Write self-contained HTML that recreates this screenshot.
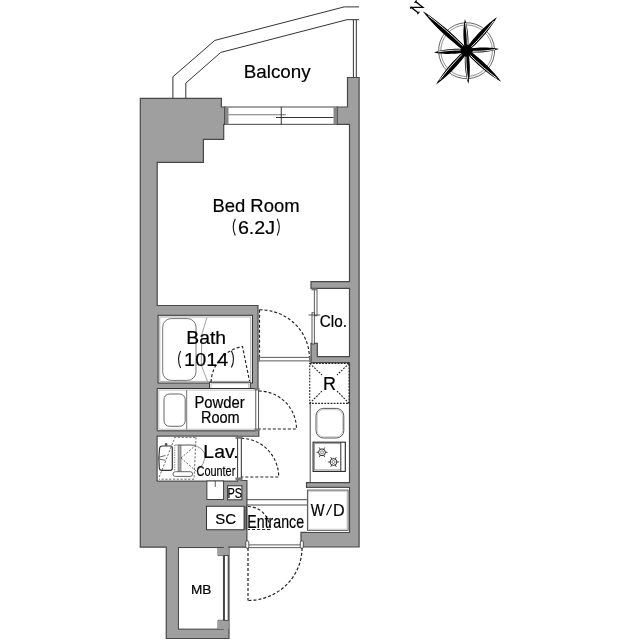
<!DOCTYPE html>
<html><head><meta charset="utf-8"><style>
html,body{margin:0;padding:0;background:#fff;}
svg{display:block;will-change:transform;}
text{font-family:"Liberation Sans",sans-serif;}
</style></head><body>
<svg width="640" height="640" viewBox="0 0 640 640">
<rect width="640" height="640" fill="#fff"/>
<polyline points="172.9,98.4 172.9,76.8 214.8,40.4 344.2,6.9 359.1,6.9" fill="none" stroke="#333333" stroke-width="1"/>
<polyline points="185.8,98.4 185.8,83.1 220.8,52.4 347,19.7 359.1,19.7" fill="none" stroke="#333333" stroke-width="1"/>
<line x1="353.4" y1="19.7" x2="353.4" y2="77.5" stroke="#333333" stroke-width="1"/>
<line x1="356.3" y1="19.7" x2="356.3" y2="77.5" stroke="#333333" stroke-width="1"/>
<path d="M140.3,98.4 H221.4 V107 H225 V124.3 H223.7 V139.3 H203.4 V162.4 H157.2 V305.5 H258 V389.7 H255.8 V430.2 H258.8 V436.25 H241.25 V480.5 H246.9 V547.2 H229 V638.5 H166.25 V547.2 H140.3 Z" fill="#9f9f9f" stroke="#484848" stroke-width="1.2"/>
<path d="M347.5,77.5 H359.1 V547 H301 V532.3 H349.5 V487.4 H306.5 V482.7 H349.5 V362.6 H311 V343.3 H317.3 V356.6 H349.5 V288.4 H311 V281.7 H349.5 V124.3 H336.9 V107 H347.5 Z" fill="#9f9f9f" stroke="#484848" stroke-width="1.2"/>
<rect x="225" y="107" width="111.9" height="17.3" fill="#fff" stroke="#333333" stroke-width="0.9"/>
<rect x="225" y="107" width="3.5" height="17.3" fill="#888"/>
<rect x="333.5" y="107" width="3.4" height="17.3" fill="#888"/>
<line x1="228.5" y1="114.75" x2="286" y2="114.75" stroke="#777" stroke-width="1"/>
<line x1="276" y1="117.5" x2="333.5" y2="117.5" stroke="#333333" stroke-width="1"/>
<line x1="281.25" y1="107" x2="281.25" y2="124.3" stroke="#333333" stroke-width="1"/>
<rect x="158.1" y="315.3" width="94.4" height="67.7" fill="#fff" stroke="#333333" stroke-width="1"/>
<rect x="159.8" y="317" width="91" height="64.3" fill="none" stroke="#999" stroke-width="0.8"/>
<rect x="162.7" y="318.6" width="33.3" height="61.8" rx="8.5" fill="none" stroke="#666" stroke-width="0.9"/>
<polyline points="206.9,317.6 201.9,333.9 201.25,365 207.5,381.4" fill="none" stroke="#888" stroke-width="0.8"/>
<rect x="209.5" y="382.3" width="40.8" height="7.8" fill="#fff" stroke="#333333" stroke-width="0.9"/>
<rect x="211" y="383.8" width="37.8" height="4.8" fill="none" stroke="#999" stroke-width="0.6"/>
<path d="M211,382 A39,38 0 0 1 242.5,346.5 L249.5,381" fill="none" stroke="#222" stroke-width="1.15" stroke-dasharray="3,2"/>
<rect x="157.2" y="388.5" width="99.1" height="42.3" fill="#fff"/>
<path d="M256.3,388.5 H157.2 V430.8 H256.3" fill="none" stroke="#333333" stroke-width="1"/>
<path d="M256.3,390.1 H158.8 V429.2 H256.3" fill="none" stroke="#999" stroke-width="0.6"/>
<line x1="186.7" y1="390" x2="186.7" y2="429.5" stroke="#666" stroke-width="0.9"/>
<rect x="164" y="394" width="21.2" height="32.3" rx="5.5" fill="none" stroke="#555" stroke-width="0.9"/>
<rect x="157.1" y="436.1" width="80.5" height="45" fill="#fff" stroke="#333333" stroke-width="1"/>
<rect x="206.9" y="481" width="16.7" height="18.5" fill="#fff" stroke="#333333" stroke-width="0.9"/>
<line x1="215.25" y1="481" x2="215.25" y2="487" stroke="#333333" stroke-width="0.8"/>
<rect x="227.6" y="485.8" width="14.3" height="14" fill="#fff" stroke="#333333" stroke-width="1"/>
<rect x="206.5" y="506.25" width="37.6" height="23.5" fill="#fff" stroke="#333333" stroke-width="1"/>
<rect x="178.4" y="547.6" width="45" height="81.5" fill="#fff" stroke="#333333" stroke-width="0.9"/>
<line x1="259.5" y1="309.8" x2="259.5" y2="357.5" stroke="#222" stroke-width="1.15" stroke-dasharray="3,2"/>
<path d="M259.5,309.8 A49.5,48 0 0 1 309.4,358" fill="none" stroke="#222" stroke-width="1.15" stroke-dasharray="3,2"/>
<rect x="258" y="357.3" width="53" height="3.6" fill="#fff" stroke="#333333" stroke-width="0.8"/>
<rect x="257.5" y="356.5" width="2.5" height="5" fill="#777"/>
<rect x="309" y="356.5" width="2.5" height="5.5" fill="#777"/>
<rect x="314.3" y="288.4" width="2.7" height="27.4" fill="#fff" stroke="#333333" stroke-width="0.8"/>
<rect x="312" y="312.8" width="2.3" height="31.2" fill="#fff" stroke="#333333" stroke-width="0.8"/>
<line x1="308.4" y1="315" x2="320.2" y2="315" stroke="#333333" stroke-width="0.8"/>
<rect x="311.5" y="288.4" width="5.5" height="2" fill="#777"/>
<rect x="309.75" y="363.4" width="39.35" height="40" fill="none" stroke="#222" stroke-width="1.1" stroke-dasharray="1.8,1.3"/>
<line x1="309.75" y1="363.4" x2="322" y2="375" stroke="#222" stroke-width="1.1" stroke-dasharray="1.8,1.3"/>
<line x1="349.1" y1="363.4" x2="337" y2="375" stroke="#222" stroke-width="1.1" stroke-dasharray="1.8,1.3"/>
<line x1="309.75" y1="403.4" x2="322" y2="391" stroke="#222" stroke-width="1.1" stroke-dasharray="1.8,1.3"/>
<line x1="349.1" y1="403.4" x2="337" y2="391" stroke="#222" stroke-width="1.1" stroke-dasharray="1.8,1.3"/>
<line x1="310.2" y1="403.4" x2="310.2" y2="482.7" stroke="#333333" stroke-width="0.9"/>
<rect x="316" y="408.4" width="27.8" height="29.6" rx="7.5" fill="#fff" stroke="#444" stroke-width="0.9"/>
<rect x="317.3" y="409.7" width="25.2" height="27" rx="6" fill="none" stroke="#aaa" stroke-width="0.6"/>
<rect x="313.1" y="442.2" width="32.2" height="29.2" fill="#fff" stroke="#222" stroke-width="1.1"/>
<rect x="314.6" y="443.7" width="26.2" height="26.2" fill="none" stroke="#777" stroke-width="0.7"/>
<line x1="340.8" y1="442.2" x2="340.8" y2="471.4" stroke="#333333" stroke-width="0.8"/>
<circle cx="322" cy="452.3" r="3.4" fill="none" stroke="#333" stroke-width="1"/><circle cx="322" cy="452.3" r="1.5" fill="none" stroke="#555" stroke-width="0.7"/><line x1="325.00" y1="452.30" x2="327.60" y2="452.30" stroke="#333" stroke-width="0.9"/><line x1="323.50" y1="454.90" x2="324.80" y2="457.15" stroke="#333" stroke-width="0.9"/><line x1="320.50" y1="454.90" x2="319.20" y2="457.15" stroke="#333" stroke-width="0.9"/><line x1="319.00" y1="452.30" x2="316.40" y2="452.30" stroke="#333" stroke-width="0.9"/><line x1="320.50" y1="449.70" x2="319.20" y2="447.45" stroke="#333" stroke-width="0.9"/><line x1="323.50" y1="449.70" x2="324.80" y2="447.45" stroke="#333" stroke-width="0.9"/>
<circle cx="333.5" cy="462" r="3.4" fill="none" stroke="#333" stroke-width="1"/><circle cx="333.5" cy="462" r="1.5" fill="none" stroke="#555" stroke-width="0.7"/><line x1="336.50" y1="462.00" x2="339.10" y2="462.00" stroke="#333" stroke-width="0.9"/><line x1="335.00" y1="464.60" x2="336.30" y2="466.85" stroke="#333" stroke-width="0.9"/><line x1="332.00" y1="464.60" x2="330.70" y2="466.85" stroke="#333" stroke-width="0.9"/><line x1="330.50" y1="462.00" x2="327.90" y2="462.00" stroke="#333" stroke-width="0.9"/><line x1="332.00" y1="459.40" x2="330.70" y2="457.15" stroke="#333" stroke-width="0.9"/><line x1="335.00" y1="459.40" x2="336.30" y2="457.15" stroke="#333" stroke-width="0.9"/>
<rect x="255.8" y="388.5" width="2.6" height="41.5" fill="#fff" stroke="#333333" stroke-width="0.8"/>
<path d="M258.75,391 A38,38 0 0 1 296.5,429 H258.75" fill="none" stroke="#222" stroke-width="1.15" stroke-dasharray="3,2"/>
<rect x="254.5" y="428.5" width="5" height="2.5" fill="#777"/>
<rect x="254.5" y="388" width="5" height="2.5" fill="#777"/>
<rect x="237.7" y="436.25" width="3.5" height="42" fill="#fff" stroke="#333333" stroke-width="0.8"/>
<path d="M241.25,438.4 A37.5,38.6 0 0 1 278.7,477 H241.25" fill="none" stroke="#222" stroke-width="1.15" stroke-dasharray="3,2"/>
<rect x="235.5" y="436.25" width="7" height="2.5" fill="#777"/>
<rect x="235.5" y="477.5" width="7" height="3" fill="#777"/>
<line x1="246.9" y1="499.7" x2="307.5" y2="499.7" stroke="#333333" stroke-width="0.9"/>
<line x1="246.9" y1="505" x2="307.5" y2="505" stroke="#333333" stroke-width="0.9"/>
<line x1="245" y1="506" x2="245" y2="530" stroke="#333333" stroke-width="0.8"/>
<line x1="246.6" y1="506" x2="246.6" y2="530" stroke="#333333" stroke-width="0.8"/>
<path d="M248,506.5 A22,23 0 0 1 270,529.5 H248" fill="none" stroke="#222" stroke-width="1.15" stroke-dasharray="3,2"/>
<rect x="247.6" y="544.9" width="54.1" height="2.8" fill="#fff" stroke="#333333" stroke-width="0.8"/>
<rect x="245.8" y="541" width="3" height="7.2" rx="1" fill="#fff" stroke="#333333" stroke-width="0.8"/>
<rect x="300.3" y="541" width="3" height="7.2" rx="1" fill="#fff" stroke="#333333" stroke-width="0.8"/>
<line x1="248" y1="548" x2="248" y2="600.5" stroke="#222" stroke-width="1.2" stroke-dasharray="3,2"/>
<path d="M302,548 A54,52.5 0 0 1 248,600.5" fill="none" stroke="#222" stroke-width="1.2" stroke-dasharray="3,2"/>
<rect x="306.9" y="487.95" width="42.1" height="43.9" fill="#fff"/>
<rect x="307.4" y="490.1" width="40.7" height="40.2" fill="#fff" stroke="#444" stroke-width="0.9"/>
<rect x="308.6" y="491.3" width="38.3" height="37.8" fill="none" stroke="#bbb" stroke-width="0.6"/>
<path d="M218,547.6 V555.6 H224.4 V620.3 H218 V629.1" fill="none" stroke="#333333" stroke-width="0.8"/>
<rect x="218.3" y="548" width="10.5" height="7.4" fill="#9f9f9f"/>
<rect x="218.3" y="620.6" width="10.5" height="8.3" fill="#9f9f9f"/>
<rect x="224.4" y="555.6" width="3.7" height="64.7" fill="#fff" stroke="#333333" stroke-width="0.8"/>
<path d="M174,437.3 H196 M196,437.3 L194,479.2 H159 M159.2,477 L174,439.8" fill="none" stroke="#555" stroke-width="0.9" stroke-dasharray="2.2,1.6"/>
<path d="M162,446 H170.5 Q172.3,446 172.3,448 V468.3 Q172.3,470.3 170.3,470.3 H161.5 Q159.5,470.3 159.3,468.3 Q158.2,458 159.6,448 Q160,446 162,446 Z" fill="none" stroke="#333" stroke-width="1.2"/>
<rect x="164.8" y="443" width="2.6" height="3" rx="1" fill="#555"/>
<path d="M159,457.2 L165.5,455.5 M159,459 L165.5,460.3" fill="none" stroke="#444" stroke-width="0.8"/>
<line x1="174.6" y1="445" x2="174.6" y2="471" stroke="#999" stroke-width="1.5" stroke-dasharray="1.2,1.2"/>
<rect x="178.1" y="445" width="2.9" height="26.2" fill="#aaa" stroke="#555" stroke-width="0.6"/>
<line x1="175" y1="445" x2="196" y2="445" stroke="#777" stroke-width="0.8"/>
<rect x="173" y="471.7" width="19.6" height="4.7" rx="2.3" fill="#fff" stroke="#555" stroke-width="0.9"/>
<path d="M181,458 L196,445 M181,458 L196,471" fill="none" stroke="#555" stroke-width="0.9" stroke-dasharray="2,1.6"/>
<path d="M181,445.3 Q200,443 204.5,453 Q206.5,464 196,471.5" fill="none" stroke="#777" stroke-width="0.8"/>
<g transform="translate(466.6,50.7) rotate(-3)"><circle r="28" fill="none" stroke="#444" stroke-width="0.8"/><circle r="25.8" fill="none" stroke="#666" stroke-width="0.7"/><g transform="rotate(0)"><path d="M-1.8,0 C-2.16,-5.29 -2.4,-10.58 -2.4,-13.23 C-2.4,-22.05 -0.72,-29.30 0,-31.5 C0.72,-29.30 2.4,-22.05 2.4,-13.23 C2.4,-10.58 2.16,-5.29 1.8,0 Z" fill="#000"/><path d="M1.0,-6 C1.32,-13.23 1.20,-18.90 0.3,-27.72" fill="none" stroke="#fff" stroke-width="0.85"/></g><g transform="rotate(90)"><path d="M-1.8,0 C-2.16,-5.46 -2.4,-10.92 -2.4,-13.65 C-2.4,-22.75 -0.72,-30.23 0,-32.5 C0.72,-30.23 2.4,-22.75 2.4,-13.65 C2.4,-10.92 2.16,-5.46 1.8,0 Z" fill="#000"/><path d="M1.0,-6 C1.32,-13.65 1.20,-19.50 0.3,-28.60" fill="none" stroke="#fff" stroke-width="0.85"/></g><g transform="rotate(180)"><path d="M-1.8,0 C-2.16,-5.54 -2.4,-11.09 -2.4,-13.86 C-2.4,-23.10 -0.72,-30.69 0,-33 C0.72,-30.69 2.4,-23.10 2.4,-13.86 C2.4,-11.09 2.16,-5.54 1.8,0 Z" fill="#000"/><path d="M1.0,-6 C1.32,-13.86 1.20,-19.80 0.3,-29.04" fill="none" stroke="#fff" stroke-width="0.85"/></g><g transform="rotate(270)"><path d="M-1.8,0 C-2.16,-5.46 -2.4,-10.92 -2.4,-13.65 C-2.4,-22.75 -0.72,-30.23 0,-32.5 C0.72,-30.23 2.4,-22.75 2.4,-13.65 C2.4,-10.92 2.16,-5.46 1.8,0 Z" fill="#000"/><path d="M1.0,-6 C1.32,-13.65 1.20,-19.50 0.3,-28.60" fill="none" stroke="#fff" stroke-width="0.85"/></g><g transform="rotate(45)"><path d="M-1.8,0 C-2.52,-7.64 -2.8,-15.29 -2.8,-19.11 C-2.8,-31.85 -0.84,-42.32 0,-45.5 C0.84,-42.32 2.8,-31.85 2.8,-19.11 C2.8,-15.29 2.52,-7.64 1.8,0 Z" fill="#000"/><path d="M1.0,-6 C1.54,-19.11 1.40,-27.30 0.3,-40.04" fill="none" stroke="#fff" stroke-width="0.85"/></g><g transform="rotate(135)"><path d="M-1.8,0 C-2.52,-7.81 -2.8,-15.62 -2.8,-19.53 C-2.8,-32.55 -0.84,-43.25 0,-46.5 C0.84,-43.25 2.8,-32.55 2.8,-19.53 C2.8,-15.62 2.52,-7.81 1.8,0 Z" fill="#000"/><path d="M1.0,-6 C1.54,-19.53 1.40,-27.90 0.3,-40.92" fill="none" stroke="#fff" stroke-width="0.85"/></g><g transform="rotate(225)"><path d="M-1.8,0 C-2.52,-7.64 -2.8,-15.29 -2.8,-19.11 C-2.8,-31.85 -0.84,-42.32 0,-45.5 C0.84,-42.32 2.8,-31.85 2.8,-19.11 C2.8,-15.29 2.52,-7.64 1.8,0 Z" fill="#000"/><path d="M1.0,-6 C1.54,-19.11 1.40,-27.30 0.3,-40.04" fill="none" stroke="#fff" stroke-width="0.85"/></g><g transform="rotate(315)"><path d="M-1.8,0 C-2.61,-9.91 -2.9,-19.82 -2.9,-24.78 C-2.9,-41.30 -0.87,-54.87 0,-59 C0.87,-54.87 2.9,-41.30 2.9,-24.78 C2.9,-19.82 2.61,-9.91 1.8,0 Z" fill="#000"/><path d="M1.0,-6 C1.59,-24.78 1.45,-35.40 0.3,-51.92" fill="none" stroke="#fff" stroke-width="0.85"/></g><circle r="4.6" fill="#000"/></g>
<g transform="translate(417.0,7.3) rotate(-52)" fill="none" stroke="#000"><path d="M-3.6,4.6 V-4.6 L3.6,4.6 V-4.6" stroke-width="1.3" stroke-linejoin="miter"/><path d="M-5.2,4.6 H-2 M2,-4.6 H5.2 M-5.2,-4.6 H-3" stroke-width="1.1"/></g>
<g font-family="Liberation Sans">
<text transform="translate(243.79,77.50) scale(1.004,1)" font-size="18.75" fill="#000" stroke="#000" stroke-width="0.2">Balcony</text>
<text transform="translate(212.42,212.30) scale(1.015,1)" font-size="18.17" fill="#000" stroke="#000" stroke-width="0.2">Bed Room</text>
<text transform="translate(186.25,344.30) scale(1.024,1)" font-size="18.90" fill="#000" stroke="#000" stroke-width="0.2">Bath</text>
<text transform="translate(319.73,327.20) scale(0.966,1)" font-size="15.84" fill="#000" stroke="#000" stroke-width="0.2">Clo.</text>
<text transform="translate(194.41,407.50) scale(0.903,1)" font-size="16.42" fill="#000" stroke="#000" stroke-width="0.2">Powder</text>
<text transform="translate(201.04,423.40) scale(0.890,1)" font-size="16.28" fill="#000" stroke="#000" stroke-width="0.2">Room</text>
<text transform="translate(203.35,458.10) scale(1.059,1)" font-size="18.31" fill="#000" stroke="#000" stroke-width="0.2">Lav.</text>
<text transform="translate(196.56,476.10) scale(0.757,1)" font-size="14.39" fill="#000" stroke="#000" stroke-width="0.2">Counter</text>
<text transform="translate(227.42,497.60) scale(0.780,1)" font-size="14.10" fill="#000" stroke="#000" stroke-width="0.2">PS</text>
<text transform="translate(215.35,523.80) scale(0.960,1)" font-size="15.55" fill="#000" stroke="#000" stroke-width="0.2">SC</text>
<text transform="translate(247.37,527.50) scale(0.750,1)" font-size="18.90" fill="#000" stroke="#000" stroke-width="0.2">Entrance</text>
<text transform="translate(310.85,515.50) scale(0.894,1)" font-size="16.35" fill="#000" stroke="#000" stroke-width="0.2">W</text>
<line x1="326.5" y1="515.3" x2="331.6" y2="504.5" stroke="#000" stroke-width="1.1"/>
<text transform="translate(333.01,515.50) scale(0.985,1)" font-size="16.35" fill="#000" stroke="#000" stroke-width="0.2">D</text>
<text transform="translate(322.96,389.50) scale(0.958,1)" font-size="18.75" fill="#000" stroke="#000" stroke-width="0.2">R</text>
<text transform="translate(190.91,593.90) scale(1.032,1)" font-size="13.23" fill="#000" stroke="#000" stroke-width="0.2">MB</text>
<text transform="translate(237.92,234.06) scale(1.087,1)" font-size="18.11" fill="#000" stroke="#000" stroke-width="0.2">6.2J</text>
<text transform="translate(184.12,366.10) scale(1.048,1)" font-size="18.90" fill="#000" stroke="#000" stroke-width="0.2">1014</text>
<path d="M235.3,218.8 Q231.10000000000002,227.2 235.3,235.6" fill="none" stroke="#111" stroke-width="1.1"/>
<path d="M277.2,218.8 Q281.4,227.2 277.2,235.6" fill="none" stroke="#111" stroke-width="1.1"/>
<path d="M180.6,351 Q176.4,359.45 180.6,367.9" fill="none" stroke="#111" stroke-width="1.1"/>
<path d="M231.4,350.75 Q235.6,359.175 231.4,367.6" fill="none" stroke="#111" stroke-width="1.1"/>
</g>
</svg>
</body></html>
